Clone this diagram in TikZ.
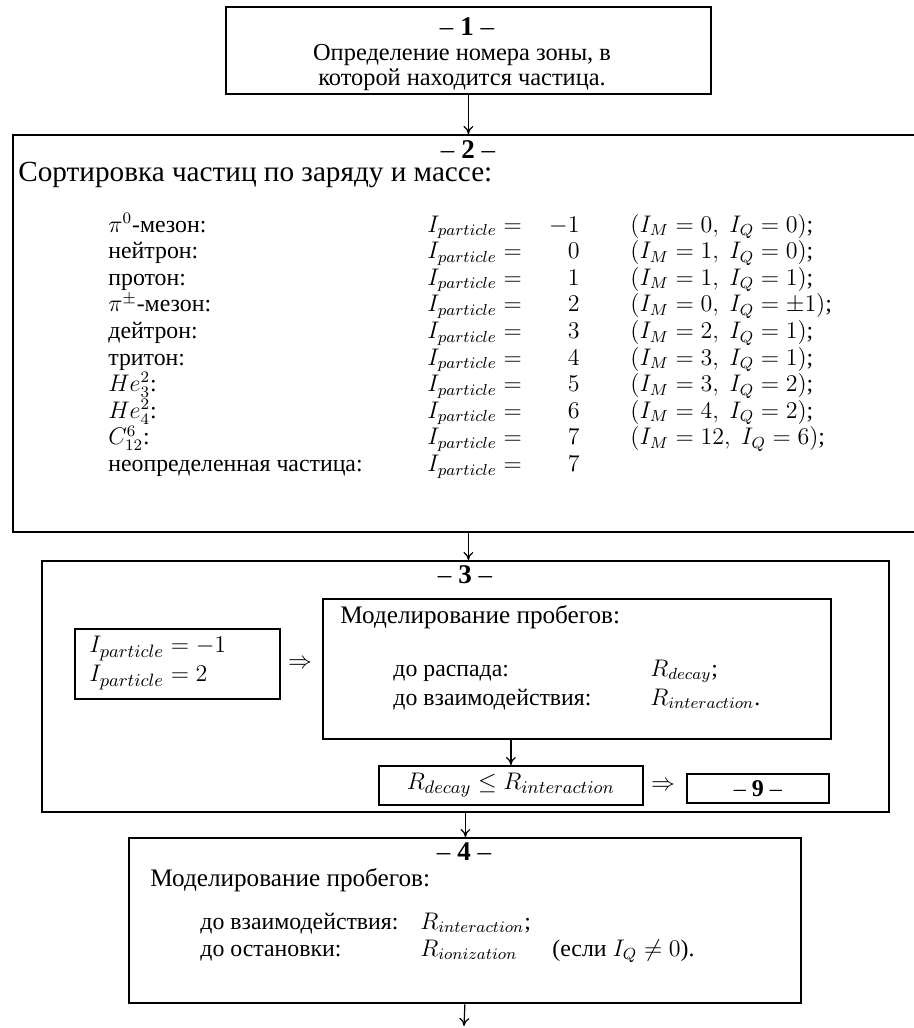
\documentclass[tikz,border=0pt]{standalone}
\usepackage{fontspec}
\setmainfont{Liberation Serif}
\usetikzlibrary{arrows.meta,positioning}
\tikzset{
    blockbox/.style={draw, line width=0.9pt, anchor=north west, inner sep=0pt},
    numtext/.style={font=\fontsize{13.5}{16}\selectfont, inner sep=0pt},
    headtext/.style={font=\fontsize{12.6}{15}\selectfont, inner sep=0pt},
    rowtext/.style={font=\fontsize{11.9}{13}\selectfont, inner sep=0pt, text height=8pt, text depth=2.5pt},
    mathtext/.style={font=\fontsize{13}{14.5}\selectfont, inner sep=0pt},
    flowarrow/.style={-{To[length=4pt,width=5pt]}, line width=0.6pt}
}

\begin{document}
\begin{tikzpicture}[x=0.5pt, y=-0.5pt]
    \useasboundingbox (0,0) rectangle (914,1028);
    % block 1
    \node[blockbox, minimum width=242.5pt, minimum height=43.5pt] (b1) at (225,6) {};
    \node[numtext] (t1) at (467,27) {-- \textbf{1} --};
    \node[align=center, inner sep=0pt, font=\fontsize{12.2}{12.5}\selectfont] (zone) at (462,68) {Определение номера зоны, в\\которой находится частица.};
    % block 2
    \node[blockbox, minimum width=453pt, minimum height=198.5pt] (b2) at (12,134) {};
    \node[numtext] (t2) at (468,150) {-- \textbf{2} --};
    \node[inner sep=0pt, font=\fontsize{14.6}{17}\selectfont, anchor=base west] (sort) at (18,181) {Сортировка частиц по заряду и массе:};
    \foreach \nm/\vl/\cm [count=\i from 0] in {
        {$\pi^0$-мезон:}/{$-1$}/{$(I_M=0,\;I_Q=0)$;},
        {нейтрон:}/{$0$}/{$(I_M=1,\;I_Q=0)$;},
        {протон:}/{$1$}/{$(I_M=1,\;I_Q=1)$;},
        {$\pi^{\pm}$-мезон:}/{$2$}/{$(I_M=0,\;I_Q=\pm1)$;},
        {дейтрон:}/{$3$}/{$(I_M=2,\;I_Q=1)$;},
        {тритон:}/{$4$}/{$(I_M=3,\;I_Q=1)$;},
        {$He_3^2$:}/{$5$}/{$(I_M=3,\;I_Q=2)$;},
        {$He_4^2$:}/{$6$}/{$(I_M=4,\;I_Q=2)$;},
        {$C_{12}^6$:}/{$7$}/{$(I_M=12,\;I_Q=6)$;},
        {неопределенная частица:}/{$7$}/{}}{
        \node[rowtext, anchor=base west] (n\i) at (108,232+26.6*\i) {\nm};
        \node[rowtext, anchor=base west] (p\i) at (427,232+26.6*\i) {$I_{particle}=$};
        \node[rowtext, anchor=base east] (v\i) at (580,232+26.6*\i) {\vl};
        \ifnum\i<9
        \node[rowtext, anchor=base west] (c\i) at (630,232+26.6*\i) {\cm};
        \fi
    }
    % block 3
    \node[blockbox, minimum width=423.5pt, minimum height=125.5pt] (b3) at (41,560) {};
    \node[numtext] (t3) at (465,575) {-- \textbf{3} --};
    \node[blockbox, minimum width=102.5pt, minimum height=35pt] (bI) at (74,628) {};
    \node[mathtext, anchor=west, align=left] (ipart) at (89,663) {$I_{particle}=-1$\\$I_{particle}=2$};
    \node[mathtext] (imp1) at (300,664) {$\Rightarrow$};
    \node[blockbox, minimum width=254pt, minimum height=70pt] (bM) at (322,598) {};
    \node[headtext, anchor=base west] (mod3) at (340,623) {Моделирование пробегов:};
    \node[rowtext, anchor=base west] (dec) at (393,676) {до распада:};
    \node[rowtext, anchor=base west] (decR) at (650,676) {$R_{decay}$;};
    \node[rowtext, anchor=base west] (int) at (393,705) {до взаимодействия:};
    \node[rowtext, anchor=base west] (intR) at (650,705) {$R_{interaction}$.};
    \node[blockbox, minimum width=132pt, minimum height=19.5pt, mathtext] (bC) at (378,765) {$R_{decay}\le R_{interaction}$};
    \node[mathtext] (imp2) at (663,786) {$\Rightarrow$};
    \node[blockbox, minimum width=71pt, minimum height=14.5pt, font=\fontsize{12}{14}\selectfont] (b9) at (686,773) {-- \textbf{9} --};
    % block 4
    \node[blockbox, minimum width=336pt, minimum height=82.5pt] (b4) at (128,837) {};
    \node[numtext] (t4) at (464,852) {-- \textbf{4} --};
    \node[headtext, anchor=base west] (mod4) at (150,886) {Моделирование пробегов:};
    \node[rowtext, anchor=base west] (int4) at (200,929) {до взаимодействия:};
    \node[rowtext, anchor=base west] (int4R) at (420,929) {$R_{interaction}$;};
    \node[rowtext, anchor=base west] (stop4) at (200,956) {до остановки:};
    \node[rowtext, anchor=base west] (stop4R) at (420,956) {$R_{ionization}$};
    \node[rowtext, anchor=base west] (cond4) at (552,956) {(если $I_Q\neq0$).};
    \coordinate (out) at (464,1026);

    \draw[flowarrow] (b1.south) -- (b1.south |- b2.north);
    \draw[flowarrow] (b2.south -| b1.south) -- (b1.south |- b3.north);
    \draw[flowarrow] (bC.north |- bM.south) -- (bC.north);
    \draw[flowarrow] (b3.south) -- (b3.south |- b4.north);
    \draw[flowarrow] (b4.south) -- (out);
\end{tikzpicture}
\end{document}
